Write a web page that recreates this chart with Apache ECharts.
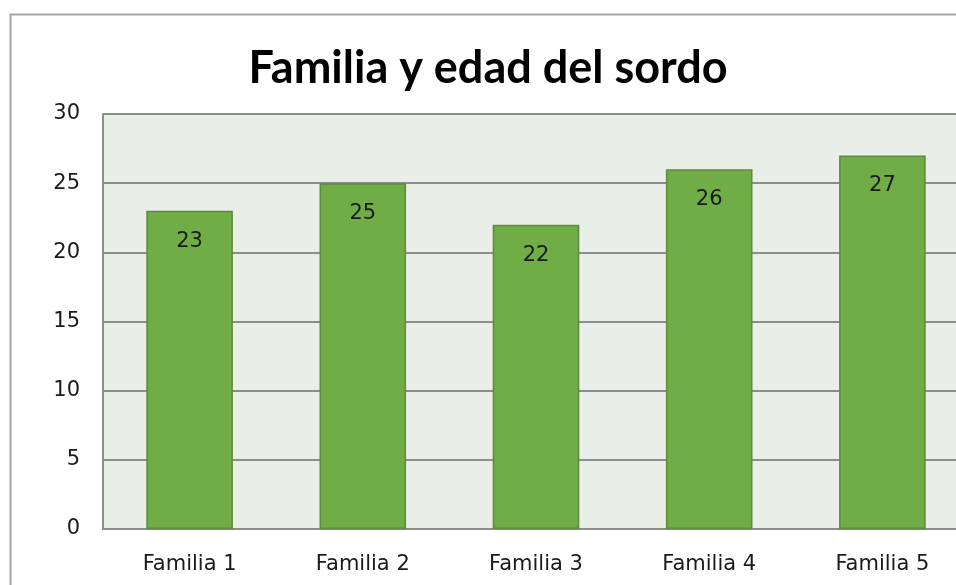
<!DOCTYPE html>
<html>
<head>
<meta charset="utf-8">
<script src="https://cdn.jsdelivr.net/npm/echarts@6/dist/echarts.min.js"></script>
<style>
  html, body { margin: 0; padding: 0; background: #fff; }
  #chart { width: 956px; height: 585px; }
</style>
</head>
<body>
<div id="chart"></div>
<script>
const categories = [ 'Familia 1', 'Familia 2', 'Familia 3', 'Familia 4', 'Familia 5' ]
const edades = [ 23, 25, 22, 26, 27 ]

const labelFont = 'DejaVu Sans'
const chart = echarts.init( document.getElementById( 'chart' ) )

chart.setOption( {
  animation : false,
  title : {
    text : 'Familia y edad del sordo',
    left : 483,
    top : 41,
    textAlign : 'center',
    textStyle : {
      fontFamily : 'Lato',
      fontWeight : 'bold',
      fontSize : 45,
      color : '#000'
    }
  },
  graphic : [
    {
      type : 'rect',
      silent : true,
      z : -10,
      shape : { x : 10.5, y : 14.5, width : 1200, height : 1200 },
      style : { fill : 'none', stroke : '#a6a6a6', lineWidth : 2 }
    }
  ],
  grid : {
    left : 103,
    top : 114,
    width : 866,
    bottom : 56,
    outerBoundsMode : 'none',
    show : true,
    backgroundColor : '#eaeee8',
    borderWidth : 0
  },
  xAxis : {
    type : 'category',
    data : categories,
    axisLine : { show : true, lineStyle : { color : '#8c8c8c', width : 2 }},
    axisTick : { show : false },
    axisLabel : {
      margin : 25,
      fontFamily : labelFont,
      fontSize : 21,
      color : '#1a1a1a'
    }
  },
  yAxis : {
    type : 'value',
    min : 0,
    max : 30,
    interval : 5,
    axisLine : { show : true, lineStyle : { color : '#8c8c8c', width : 2 }},
    axisTick : { show : false },
    splitLine : { lineStyle : { color : '#8c8c8c', width : 2 }},
    axisLabel : {
      margin : 23,
      fontFamily : labelFont,
      fontSize : 21,
      color : '#1a1a1a'
    }
  },
  series : [
    {
      name : 'Edad',
      type : 'bar',
      data : edades,
      barWidth : '50%',
      itemStyle : {
        color : '#70ad47',
        borderColor : '#5b8c3a',
        borderWidth : 1.5
      },
      label : {
        show : true,
        position : 'insideTop',
        distance : 20,
        fontFamily : labelFont,
        fontSize : 21,
        color : '#1a1a1a'
      }
    }
  ]
} )
</script>
</body>
</html>
